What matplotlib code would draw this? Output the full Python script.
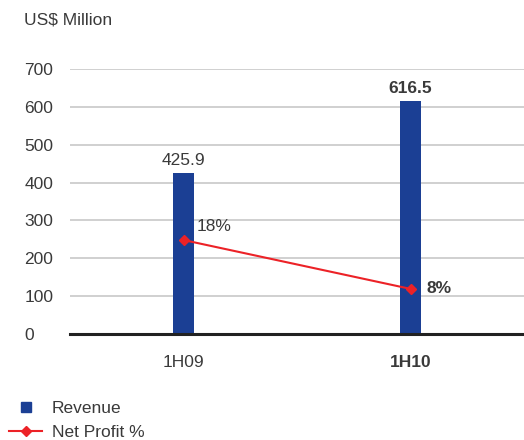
import matplotlib.pyplot as plt
from matplotlib.lines import Line2D

plt.rcParams['font.family'] = ['Liberation Sans', 'DejaVu Sans']

periods = ['1H09', '1H10']
revenue = [425.9, 616.5]
net_profit = [18, 8]
revenue_labels = ['425.9', '616.5']
profit_labels = ['18%', '8%']
yticks = [0, 100, 200, 300, 400, 500, 600, 700]

blue = '#1b3f94'
red = '#ec2227'
txt = '#3a3a3a'
fs = 12.5

fig = plt.figure(figsize=(5.24, 4.4), dpi=100)
ax = fig.add_axes([70 / 524, 106 / 440, 454 / 524, 265 / 440])

x = list(range(len(periods)))
ax.bar(x, revenue, width=0.096, color=blue, zorder=3)
ax.set_xlim(-0.5, 1.5)
ax.set_ylim(0, 700)
ax.set_yticks(yticks)
ax.grid(axis='y', color='#c8c8c8', linewidth=1.2, zorder=0)
ax.axhline(0, color='#222222', linewidth=2.2, zorder=4, clip_on=False)
for s in ax.spines.values():
    s.set_visible(False)
ax.tick_params(length=0, labelsize=fs, labelcolor=txt)
ax.tick_params(axis='y', pad=33)
for lab in ax.get_yticklabels():
    lab.set_ha('left')
ax.set_xticks(x)
ax.set_xticklabels(periods)
ax.tick_params(axis='x', pad=15)
ax.get_xticklabels()[1].set_fontweight('bold')

for i, (v, t) in enumerate(zip(revenue, revenue_labels)):
    ax.text(i, v + 12, t, ha='center', va='bottom', fontsize=fs, color=txt,
            fontweight='bold' if i == 1 else 'normal')

# net profit % on a hidden second scale
ax2 = ax.twinx()
ax2.set_ylim(-1.23, 53.0)
ax2.axis('off')
ax2.plot(x, net_profit, color=red, linewidth=1.5, marker='D', markersize=5.5, zorder=5)
for i, (v, t) in enumerate(zip(net_profit, profit_labels)):
    if i == 0:
        ax2.text(i + 0.06, v + 1.2, t, ha='left', va='bottom', fontsize=fs, color=txt)
    else:
        ax2.text(i + 0.07, v, t, ha='left', va='center', fontsize=fs, color=txt,
                 fontweight='bold')

fig.text(24 / 524, 1 - 20 / 440, 'US$ Million', fontsize=fs, color=txt, va='center')

handles = [Line2D([], [], marker='s', linestyle='', color=blue, markersize=7),
           Line2D([], [], marker='D', color=red, linewidth=1.5, markersize=5)]
fig.legend(handles, ['Revenue', 'Net Profit %'], loc='upper left',
           bbox_to_anchor=(0.008, 1 - 396 / 440), frameon=False, fontsize=fs,
           labelcolor=txt, handlelength=1.9, handletextpad=0.55, labelspacing=0.5,
           borderaxespad=0, borderpad=0.3)

fig.savefig('out.png', dpi=100)
